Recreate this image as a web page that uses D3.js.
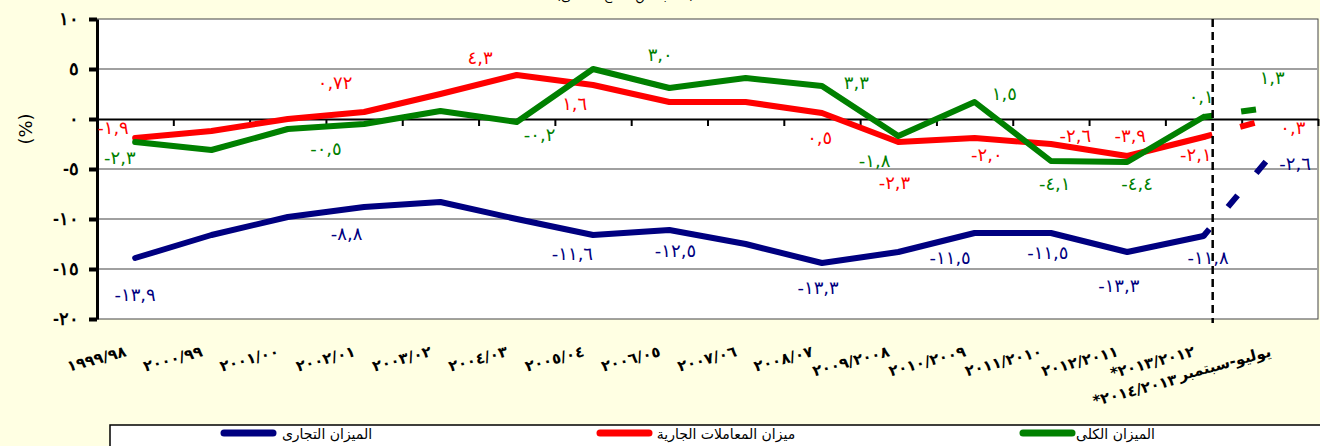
<!DOCTYPE html>
<html>
<head>
<meta charset="utf-8">
<script src="https://cdn.jsdelivr.net/npm/d3@7/dist/d3.min.js"></script>
<style>
    body { margin: 0; background: #ffffe3; }
    svg { display: block; font-family: "DejaVu Sans", sans-serif; }
</style>
</head>
<body>
<svg id="chart" width="1320" height="446"></svg>
<script>
var categories = ["١٩٩٩/٩٨", "٢٠٠٠/٩٩", "٢٠٠١/٠٠", "٢٠٠٢/٠١", "٢٠٠٣/٠٢", "٢٠٠٤/٠٣", "٢٠٠٥/٠٤", "٢٠٠٦/٠٥",
    "٢٠٠٧/٠٦", "٢٠٠٨/٠٧", "٢٠٠٩/٢٠٠٨", "٢٠١٠/٢٠٠٩", "٢٠١١/٢٠١٠", "٢٠١٢/٢٠١١", "*٢٠١٣/٢٠١٢\n*٢٠١٤/٢٠١٣", "يوليو-سبتمبر"]

var tradeBalance   = [-13.9, -11.6, -9.8, -8.8, -8.3, -10.0, -11.6, -11.1, -12.5, -14.4, -13.3, -11.4, -11.4, -13.3, -11.7, -2.6]
var currentAccount = [-1.9, -1.2, 0.0, 0.7, 2.5, 4.4, 3.4, 1.7, 1.7, 0.6, -2.3, -1.9, -2.5, -3.7, -1.8, 0.3]
var overallBalance = [-2.3, -3.1, -1.0, -0.5, 0.8, -0.3, 5.0, 3.1, 4.1, 3.3, -1.7, 1.7, -4.2, -4.3, 0.2, 1.3]

var yTicks = [10, 5, 0, -5, -10, -15, -20]
var seriesNames = ["الميزان التجارى", "ميزان المعاملات الجارية", "الميزان الكلى"]

// data labels as typed on the original chart (i = category position, v = value position)
var tradeLabels = [
    {t: "-١٣,٩", i: 0, v: -17.5}, {t: "-٨,٨", i: 2.77, v: -11.4}, {t: "-١١,٦", i: 5.73, v: -13.4},
    {t: "-١٢,٥", i: 7.08, v: -13.1}, {t: "-١٣,٣", i: 8.95, v: -16.8}, {t: "-١١,٥", i: 10.68, v: -13.8},
    {t: "-١١,٥", i: 11.96, v: -13.3}, {t: "-١٣,٣", i: 12.89, v: -16.6}, {t: "-١١,٨", i: 14.06, v: -13.8},
    {t: "-٢,٦", i: 15.2, v: -4.4}]
var currentLabels = [
    {t: "-١,٩", i: -0.29, v: -0.8}, {t: "٠,٧٢", i: 2.62, v: 3.7}, {t: "٤,٣", i: 4.52, v: 6.2},
    {t: "١,٦", i: 5.76, v: 1.6}, {t: "٠,٥", i: 8.97, v: -1.8}, {t: "-٢,٣", i: 9.95, v: -6.3},
    {t: "-٢,٠", i: 11.16, v: -3.5}, {t: "-٢,٦", i: 12.32, v: -1.6}, {t: "-٣,٩", i: 13.04, v: -1.6},
    {t: "-٢,١", i: 13.9, v: -3.5}, {t: "٠,٣", i: 15.17, v: -0.8}]
var overallLabels = [
    {t: "-٢,٣", i: -0.2, v: -3.8}, {t: "-٠,٥", i: 2.5, v: -2.9}, {t: "-٠,٢", i: 5.3, v: -1.5},
    {t: "٣,٠", i: 6.88, v: 6.5}, {t: "٣,٣", i: 9.45, v: 3.7}, {t: "-١,٨", i: 9.69, v: -4.1},
    {t: "١,٥", i: 11.39, v: 2.6}, {t: "-٤,١", i: 12.05, v: -6.4}, {t: "-٤,٤", i: 13.13, v: -6.4},
    {t: "٠,١", i: 13.97, v: 2.3}, {t: "١,٣", i: 14.9, v: 4.2}]

var toArabic = (s) => String(s).replace(/[0-9]/g, d => "٠١٢٣٤٥٦٧٨٩"[d])

var series = [
    {name: seriesNames[0], values: tradeBalance, labels: tradeLabels, color: "#000080"},
    {name: seriesNames[1], values: currentAccount, labels: currentLabels, color: "#ff0000"},
    {name: seriesNames[2], values: overallBalance, labels: overallLabels, color: "#008000"}
]

var svg = d3.select("#chart")
var x = d3.scaleLinear().domain([-0.5, categories.length - 0.5]).range([97, 1318])
var y = d3.scaleLinear().domain([-20, 10]).range([319, 19])
var last = categories.length - 1

// title, mostly outside the top of the picture
svg.append("text")
    .attr("x", 625).attr("y", 0)
    .attr("text-anchor", "middle")
    .style("font-size", "13px")
    .text("(كنسبة من الناتج المحلى)")

svg.append("rect")
    .attr("x", x(-0.5)).attr("y", y(10))
    .attr("width", x(last + 0.5) - x(-0.5)).attr("height", y(-20) - y(10))
    .style("fill", "white")
    .style("stroke", "#444")
    .style("stroke-width", 1)

svg.append("g")
    .selectAll("line")
    .data(yTicks.filter(d => d != 0 && d != 10 && d != -20))
    .enter()
    .append("line")
    .attr("x1", x(-0.5)).attr("x2", x(last + 0.5))
    .attr("y1", d => y(d)).attr("y2", d => y(d))
    .style("stroke", "#a0a0a0")
    .style("stroke-width", 2)

// category axis sits on the zero line
var xAxis = svg.append("g")
    .attr("transform", "translate(0," + y(0) + ")")
    .call(d3.axisBottom(x).tickValues(d3.range(0.5, last + 1, 1)).tickSize(7).tickSizeOuter(0).tickFormat(""))
xAxis.select(".domain").style("stroke", "black").style("stroke-width", 2)
xAxis.selectAll(".tick line").style("stroke", "black").style("stroke-width", 2)

var yAxis = svg.append("g")
    .attr("transform", "translate(" + x(-0.5) + ",0)")
    .call(d3.axisLeft(y).tickValues(yTicks).tickSize(8).tickSizeOuter(0).tickPadding(10).tickFormat(d => toArabic(d)))
yAxis.select(".domain").style("stroke", "black").style("stroke-width", 3)
yAxis.selectAll(".tick line").style("stroke", "black").style("stroke-width", 4)
yAxis.selectAll(".tick text")
    .style("font-size", "18px")
    .style("font-weight", "bold")
    .style("letter-spacing", "4px")
    .style("fill", "black")

svg.append("text")
    .attr("transform", "translate(32," + y(-1) + ") rotate(-90)")
    .attr("text-anchor", "middle")
    .style("font-size", "18px")
    .text("(%)")

// category labels
svg.append("g")
    .selectAll("text")
    .data(categories)
    .enter()
    .append("text")
    .attr("transform", (d, i) => "translate(" + (x(i) - 8) + ",356) rotate(-15)")
    .attr("text-anchor", "end")
    .style("font-size", "15px")
    .style("font-weight", "bold")
    .style("letter-spacing", (d, i) => i == last ? "0px" : "1.5px")
    .each(function(d) {
        var lines = d.split("\n")
        d3.select(this).selectAll("tspan")
            .data(lines)
            .enter()
            .append("tspan")
            .attr("x", (l, k) => k == 0 ? 0 : -24)
            .attr("dy", (l, k) => k == 0 ? 0 : "1.5em")
            .text(l => l)
    })

var line = d3.line().x(d => x(d.i)).y(d => y(d.v))

series.forEach(s => {
    var pts = s.values.map((v, i) => ({i: i, v: v}))
    svg.append("path")
        .datum(pts.slice(0, last))
        .attr("d", line)
        .style("fill", "none")
        .style("stroke", s.color)
        .style("stroke-width", 6)
        .style("stroke-linejoin", "round")
        .style("stroke-linecap", "round")
    // last step (the quarter) drawn dashed
    svg.append("path")
        .datum(pts.slice(last - 1))
        .attr("d", line)
        .style("fill", "none")
        .style("stroke", s.color)
        .style("stroke-width", 6)
        .style("stroke-dasharray", "15,29")
        .style("stroke-dashoffset", 6)
})

series.forEach(s => {
    svg.append("g")
        .selectAll("text")
        .data(s.labels)
        .enter()
        .append("text")
        .attr("x", d => x(d.i))
        .attr("y", d => y(d.v))
        .attr("text-anchor", "middle")
        .attr("dominant-baseline", "central")
        .style("font-size", "18px")
        .style("letter-spacing", "2px")
        .style("fill", s.color)
        .text(d => d.t)
})

// split between fiscal years and the quarter
svg.append("line")
    .attr("x1", x(last - 0.88)).attr("x2", x(last - 0.88))
    .attr("y1", y(10)).attr("y2", y(-20) + 4)
    .style("stroke", "black")
    .style("stroke-width", 2.5)
    .style("stroke-dasharray", "8,5")

// legend
var legend = svg.append("g").attr("transform", "translate(110,425)")
legend.append("rect")
    .attr("width", 1230).attr("height", 30)
    .style("fill", "white")
    .style("stroke", "black")
    .style("stroke-width", 1.5)

var legendX = [111, 487, 910]
var legendTextW = [96, 142, 75]
var legendItem = legend.selectAll("g.item")
    .data(series)
    .enter()
    .append("g")
    .attr("class", "item")
    .attr("transform", (d, i) => "translate(" + legendX[i] + ",0)")
legendItem.append("line")
    .attr("x1", 3).attr("x2", 52)
    .attr("y1", 8).attr("y2", 8)
    .style("stroke", d => d.color)
    .style("stroke-width", 7)
    .style("stroke-linecap", "round")
legendItem.append("text")
    .attr("x", (d, i) => 58 + legendTextW[i] / 2).attr("y", 14)
    .attr("text-anchor", "middle")
    .style("font-size", "14px")
    .text(d => d.name)
</script>
</body>
</html>
